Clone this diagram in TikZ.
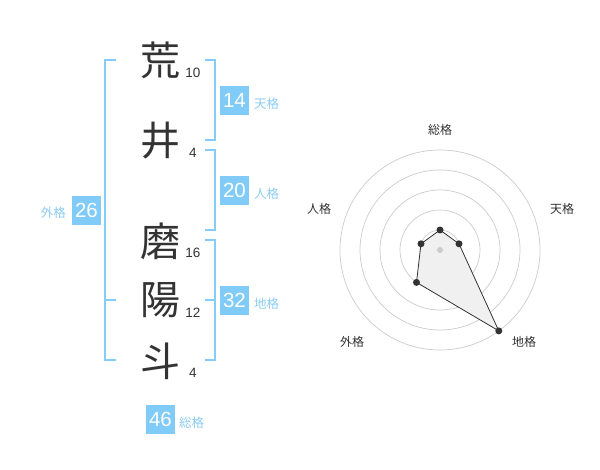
\documentclass[tikz,border=0pt]{standalone}
\usepackage{fontspec}
\setmainfont{Liberation Sans}
\newfontfamily\jp{Noto Sans CJK JP}
\definecolor{kanjicol}{HTML}{333333}
\definecolor{boxcol}{HTML}{80CBF8}
\definecolor{brcol}{HTML}{85CDF8}
\definecolor{lblcol}{HTML}{8CCDF2}
\definecolor{gridcol}{HTML}{CCCCCC}
\begin{document}
\begin{tikzpicture}[x=1pt,y=-1pt,
  kanji/.style={font=\jp\fontsize{40}{40}\selectfont, text=kanjicol, inner sep=0pt},
  strokes/.style={font=\fontsize{13.5}{13.5}\selectfont, text=kanjicol, inner sep=0pt},
  scorebox/.style={fill=boxcol, text=white, minimum width=29pt, minimum height=29pt, inner sep=0pt, font=\fontsize{20.5}{20.5}\selectfont},
  kaku/.style={font=\jp\fontsize{12.5}{12.5}\selectfont, text=lblcol, inner sep=0pt},
  bracket/.style={draw=brcol, line width=2pt},
  ring/.style={draw=gridcol, line width=0.7pt},
  axislbl/.style={font=\jp\fontsize{12}{12}\selectfont, text=kanjicol, inner sep=0pt},
  dot/.style={circle, fill=kanjicol, inner sep=0pt, minimum size=7pt}
]
\useasboundingbox (0,0) rectangle (600,470);
\fill[white] (0,0) rectangle (600,470);

% kanji
\node[kanji] (k1) at (160,60) {荒};
\node[kanji] (k2) at (160,141) {井};
\node[kanji] (k3) at (160,241) {磨};
\node[kanji] (k4) at (160,300) {陽};
\node[kanji] (k5) at (160,361) {斗};
% stroke counts
\node[strokes] (s1) at (193,73) {10};
\node[strokes] (s2) at (193,153) {4};
\node[strokes] (s3) at (193,253) {16};
\node[strokes] (s4) at (193,313) {12};
\node[strokes] (s5) at (193,373) {4};

% brackets
\draw[bracket] (116,60) -- (105,60) -- (105,360) -- (116,360);
\draw[bracket] (105,300) -- (116,300);
\draw[bracket] (205,60) -- (215,60) -- (215,140) -- (205,140);
\draw[bracket] (205,150) -- (215,150) -- (215,230) -- (205,230);
\draw[bracket] (205,240) -- (215,240) -- (215,360) -- (205,360);
\draw[bracket] (205,300) -- (215,300);

% score boxes
\node[scorebox] (ten) at (234.5,100.5) {14};
\node[kaku, anchor=west] (tenl) at (254,104) {天格};
\node[scorebox] (jin) at (234.5,190.5) {20};
\node[kaku, anchor=west] (jinl) at (254,194) {人格};
\node[scorebox] (chi) at (234.5,300.5) {32};
\node[kaku, anchor=west] (chil) at (254,304) {地格};
\node[scorebox] (gai) at (86.5,210.5) {26};
\node[kaku, anchor=east] (gail) at (66,213) {外格};
\node[scorebox] (sou) at (160.5,419) {46};
\node[kaku, anchor=west] (soul) at (179,423) {総格};

% radar
\coordinate (c) at (440,250);
\foreach \r in {20,40,60,80,100} \draw[ring] (c) circle (\r);
\node[axislbl] (aS) at (440,130) {総格};
\node[axislbl] (aT) at (562,209) {天格};
\node[axislbl] (aJ) at (319,209) {人格};
\node[axislbl] (aG) at (352,342) {外格};
\node[axislbl] (aC) at (524,342) {地格};

\coordinate (pS) at (440,230);
\coordinate (pT) at (459.0,243.8);
\coordinate (pC) at (498.8,330.9);
\coordinate (pG) at (416.5,282.4);
\coordinate (pJ) at (421.0,243.8);
\fill[black!6] (pS) -- (pT) -- (pC) -- (pG) -- (pJ) -- cycle;
\draw[kanjicol, line width=0.8pt] (pS) -- (pT) -- (pC) -- (pG) -- (pJ) -- cycle;
\node[circle, fill=gridcol, inner sep=0pt, minimum size=6pt] (cd) at (c) {};
\node[dot] (dS) at (pS) {};
\node[dot] (dT) at (pT) {};
\node[dot] (dC) at (pC) {};
\node[dot] (dG) at (pG) {};
\node[dot] (dJ) at (pJ) {};
\end{tikzpicture}
\end{document}
